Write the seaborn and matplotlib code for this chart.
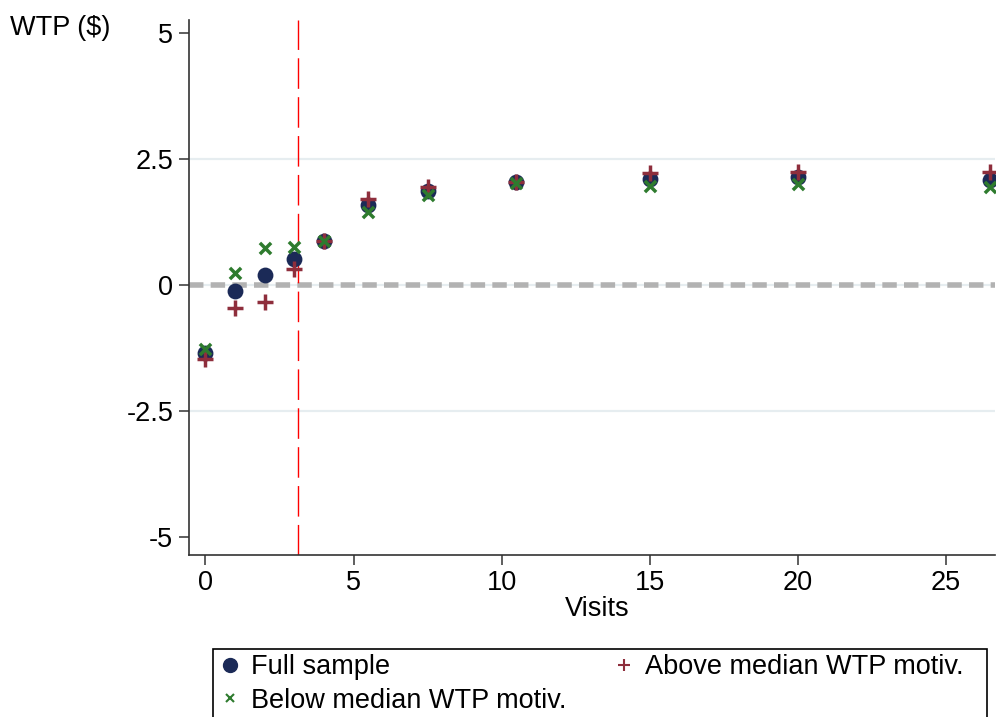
import numpy as np
import pandas as pd
import matplotlib
matplotlib.use('Agg')
import matplotlib.pyplot as plt
from matplotlib.lines import Line2D
from matplotlib.patches import Rectangle
import seaborn as sns

# valores
visitas = [0, 1, 2, 3, 4, 5.5, 7.5, 10.5, 15, 20, 26.5]
full_sample = [-1.34, -0.11, 0.20, 0.53, 0.88, 1.59, 1.87, 2.04, 2.10, 2.14, 2.09]
above_median = [-1.47, -0.46, -0.33, 0.32, 0.88, 1.71, 1.94, 2.04, 2.22, 2.24, 2.25]
below_median = [-1.26, 0.24, 0.74, 0.75, 0.88, 1.45, 1.79, 2.03, 1.97, 2.00, 1.94]
corte = 3.14

yticks = [5, 2.5, 0, -2.5, -5]
ytick_labels = ['5', '2.5', '0', '-2.5', '-5']
xticks = [0, 5, 10, 15, 20, 25]

navy = '#1b2a57'
maroon = '#8e2e3c'
green = '#2e7b2e'
fs = 19.5

sns.set_style('white')
plt.rcParams['font.family'] = ['Liberation Sans', 'DejaVu Sans']
plt.rcParams['text.color'] = 'black'

df = pd.DataFrame({
    'visitas': visitas,
    'full': full_sample,
    'above': above_median,
    'below': below_median,
})

fig = plt.figure(figsize=(9.98, 7.17), dpi=100)
ax = fig.add_axes([0.189, 0.226, 0.808, 0.746])

# grilla horizontal y línea de cero
for yv in [-2.5, 0, 2.5]:
    ax.axhline(yv, color='#e6edf0', lw=1.6, zorder=0)
ax.axhline(0, color='#b2b2b2', lw=4.0, dashes=(2.6, 1.3), zorder=1)
ax.axvline(corte, color='red', lw=1.0, dashes=(22, 6), zorder=1)

sns.scatterplot(data=df, x='visitas', y='full', color=navy, marker='o',
                s=130, linewidth=0, ax=ax, zorder=3)
sns.scatterplot(data=df, x='visitas', y='above', color=maroon, marker='+',
                s=125, linewidth=2.5, ax=ax, zorder=4)
sns.scatterplot(data=df, x='visitas', y='below', color=green, marker='x',
                s=65, linewidth=2.5, ax=ax, zorder=5)

ax.set_xlim(-0.57, 26.67)
ax.set_ylim(-5.35, 5.26)
ax.set_xticks(xticks)
ax.set_xticklabels([str(v) for v in xticks])
ax.set_yticks(yticks)
ax.set_yticklabels(ytick_labels)
ax.set_xlabel('')
ax.set_ylabel('')

sns.despine(ax=ax, top=True, right=True)
for lado in ['left', 'bottom']:
    ax.spines[lado].set_color('#333333')
    ax.spines[lado].set_linewidth(1.2)
ax.tick_params(axis='both', direction='out', length=7, width=1.1,
               color='#333333', labelsize=fs, pad=4, labelcolor='black')
ax.tick_params(axis='x', bottom=True)
ax.tick_params(axis='y', left=True)

fig.text(0.01, 1 - 28 / 717, 'WTP ($)', fontsize=fs, va='center', ha='left')
fig.text(597 / 998, 1 - 609 / 717, 'Visits', fontsize=fs, va='center', ha='center')

# recuadro de la leyenda
fig.patches.append(Rectangle((213 / 998, -0.02), 774 / 998, 0.02 + 1 - 649 / 717,
                             transform=fig.transFigure, fill=False,
                             edgecolor='black', lw=1.2))

handles = [
    Line2D([], [], ls='none', marker='o', color=navy, markersize=10),
    Line2D([], [], ls='none', marker='x', color=green, markersize=6, mew=1.5),
    Line2D([], [], ls='none', marker='+', color=maroon, markersize=9, mew=1.5),
]
etiquetas = ['Full sample', 'Below median WTP motiv.', 'Above median WTP motiv.']
fig.legend(handles, etiquetas, loc='upper left', bbox_to_anchor=(216.5 / 998, 1 - 654 / 717),
           ncol=2, frameon=False, fontsize=fs, handlelength=1.0,
           handletextpad=0.26, columnspacing=1.65, labelspacing=0.28,
           borderaxespad=0, borderpad=0)

fig.savefig('out.png', dpi=100)
